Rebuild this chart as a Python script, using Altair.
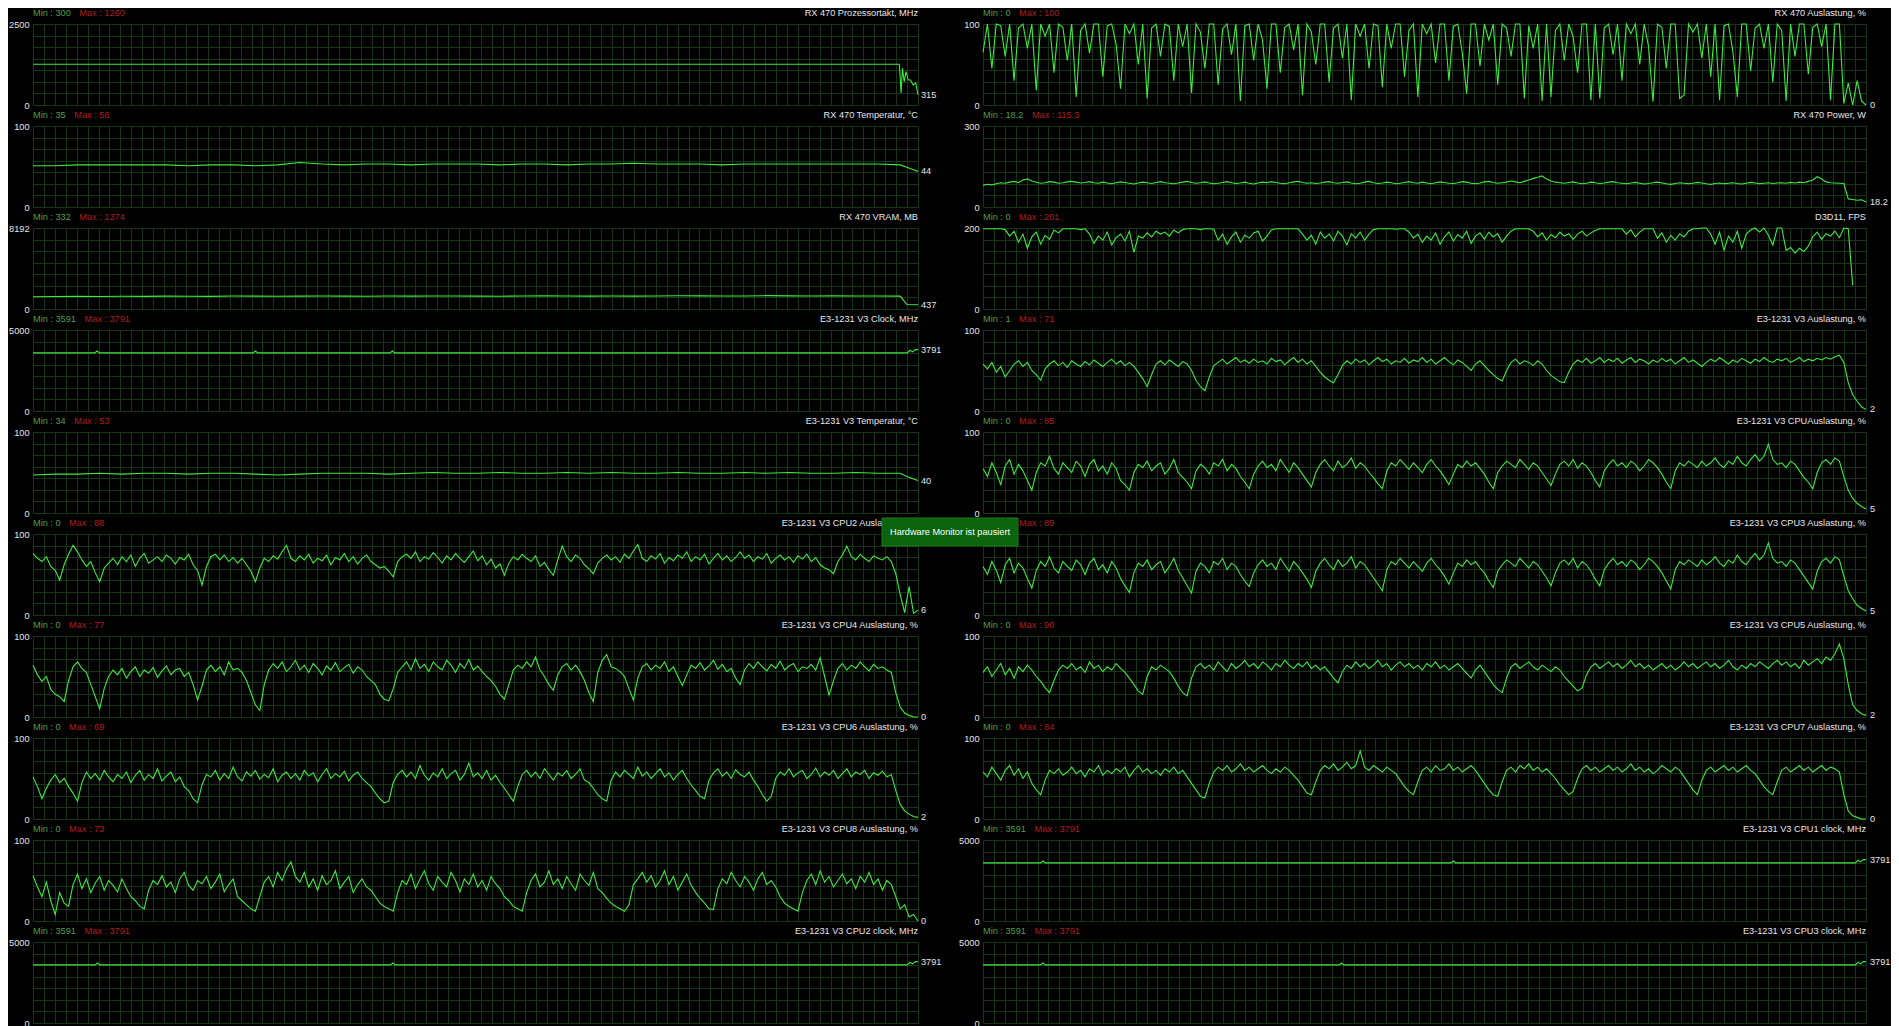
import altair as alt
import pandas as pd
import numpy as np

# ------------------------------------------------------------------ data
N_LAST = 199  # index of the newest sample in the monitor window

# ---- left column ----
L0_t = [0, 194.8, 195.2, 195.5, 195.9, 196.3, 196.8, 197.3, 197.9, 198.5, 199]
L0_v = [1260, 1260, 370, 1130, 720, 1030, 770, 770, 620, 680, 315]

L1_t = [0, 5, 10, 15, 20, 25, 30, 35, 40, 45, 50, 55, 60, 65, 70, 75, 80, 85, 90, 95,
        100, 105, 110, 115, 120, 125, 130, 135, 140, 145, 150, 155, 160, 165, 170, 175, 180, 185, 190, 195,
        196.5, 198, 199]
L1_v = [51, 51, 52, 52, 52, 52, 52, 51, 52, 52, 51, 52, 55, 53, 52, 53, 53, 52, 53, 53,
        53, 52, 53, 53, 52, 53, 53, 54, 53, 53, 53, 52, 53, 53, 53, 53, 53, 53, 53, 52,
        49, 46, 44]

L2_t = [0, 5, 10, 15, 20, 25, 30, 35, 40, 45, 50, 55, 60, 65, 70, 75, 80, 85, 90, 95,
        100, 105, 110, 115, 120, 125, 130, 135, 140, 145, 150, 155, 160, 165, 170, 175, 180, 185, 190, 195,
        196.5, 199]
L2_v = [1240, 1260, 1280, 1270, 1290, 1280, 1300, 1290, 1280, 1310, 1300, 1290, 1300, 1320, 1300, 1290, 1310, 1300, 1320, 1310,
        1300, 1290, 1310, 1330, 1320, 1300, 1310, 1300, 1320, 1340, 1330, 1310, 1320, 1350, 1330, 1320, 1330, 1320, 1310, 1300,
        450, 437]

L3_t = [0, 13.9, 14.4, 14.9, 49.5, 50, 50.5, 80.3, 80.8, 81.3, 196.6, 197.2, 197.8, 198.4, 199]
L3_v = [3591, 3591, 3700, 3591, 3591, 3700, 3591, 3591, 3700, 3591, 3591, 3750, 3650, 3791, 3791]

L4_t = [0, 5, 10, 15, 20, 25, 30, 35, 40, 45, 50, 55, 60, 65, 70, 75, 80, 85, 90, 95,
        100, 105, 110, 115, 120, 125, 130, 135, 140, 145, 150, 155, 160, 165, 170, 175, 180, 185, 190, 195,
        196.5, 198, 199]
L4_v = [47, 48, 48, 49, 48, 49, 49, 48, 49, 49, 48, 47, 48, 49, 49, 49, 48, 49, 50, 49,
        49, 50, 49, 49, 50, 49, 50, 49, 49, 50, 49, 49, 50, 49, 50, 49, 49, 50, 49, 49,
        45, 42, 40]

L5_v = [
    76, 70, 66, 72, 60, 55, 43, 62, 75, 86, 78, 68, 60, 66, 52, 41, 58, 64, 70, 62,
    72, 66, 74, 60, 70, 76, 64, 68, 72, 66, 74, 70, 63, 71, 68, 75, 62, 55, 37, 60,
    72, 75, 68, 74, 66, 71, 64, 70, 62, 54, 41, 58, 70, 66, 73, 69, 78, 86, 70, 66,
    73, 68, 75, 64, 70, 67, 74, 62, 71, 68, 76, 66, 72, 63, 70, 74, 66, 62, 58, 60,
    54, 47, 66, 72, 75, 70, 78, 66, 72, 69, 77, 71, 64, 73, 68, 76, 70, 65, 72, 79,
    67, 73, 62, 69, 58, 63, 49, 64, 72, 68, 75, 70, 66, 73, 60, 65, 56, 49, 68, 85,
    72, 66, 74, 70, 62, 57, 51, 64, 70, 74, 68, 72, 65, 75, 70, 79, 87, 70, 66, 73,
    69, 76, 64, 71, 67, 74, 70, 78, 66, 72, 68, 75, 63, 70, 76, 68, 73, 66, 71, 78,
    70, 74, 66, 72, 69, 76, 64, 70, 74, 68, 72, 65, 73, 69, 75, 66, 71, 62, 58, 56,
    51, 66, 74, 85, 72, 68, 75, 70, 66, 73, 70, 68, 72, 66, 51, 25, 3, 35, 2, 6]

L6_v = [
    64, 52, 44, 50, 34, 28, 25, 19, 45, 62, 68, 60, 55, 40, 25, 10, 35, 50, 58, 52,
    60, 48, 56, 62, 50, 58, 54, 61, 49, 57, 63, 52, 58, 60, 50, 55, 40, 21, 38, 58,
    64, 56, 62, 52, 68, 58, 60, 55, 45, 30, 15, 8, 40, 58, 66, 60, 68, 56, 62, 70,
    58, 64, 55, 66, 60, 52, 63, 58, 67, 56, 61, 65, 54, 62, 58, 50, 45, 40, 28, 22,
    20, 35, 55, 62, 68, 58, 72, 60, 65, 56, 68, 62, 58, 70, 64, 55, 66, 60, 71, 58,
    63, 56, 50, 45, 38, 28, 22, 40, 58, 64, 60, 68, 62, 74, 58, 50, 40, 33, 52, 62,
    66, 58, 64, 56, 45, 30, 19, 55, 70, 77, 62, 60, 56, 50, 35, 21, 48, 62, 66, 58,
    64, 60, 68, 56, 62, 50, 39, 52, 64, 60, 67, 58, 63, 70, 59, 65, 56, 60, 48, 40,
    58, 66, 60, 68, 62, 57, 65, 60, 69, 58, 63, 66, 56, 62, 60, 65, 58, 73, 50, 27,
    45, 60, 66, 58, 64, 60, 68, 62, 57, 65, 60, 62, 58, 55, 30, 12, 5, 2, 0, 0]

L7_v = [
    52, 40, 25, 38, 48, 55, 45, 50, 40, 32, 22, 45, 58, 50, 56, 48, 60, 52, 46, 55,
    50, 58, 45, 54, 60, 48, 55, 50, 62, 47, 53, 58, 46, 52, 40, 35, 25, 20, 42, 55,
    52, 60, 48, 56, 50, 64, 52, 47, 58, 53, 60, 49, 55, 51, 62, 46, 54, 58, 50, 56,
    48, 60, 53, 57, 46, 55, 62, 50, 56, 52, 59, 47, 54, 58, 50, 45, 40, 32, 25, 20,
    22, 45, 55, 60, 52, 58, 50, 66, 54, 48, 57, 52, 62, 50, 56, 60, 48, 55, 69, 52,
    57, 50, 60, 48, 54, 45, 38, 30, 22, 40, 55, 60, 52, 58, 50, 62, 55, 48, 57, 53,
    60, 50, 55, 62, 48, 45, 38, 30, 25, 22, 48, 58, 52, 60, 55, 50, 64, 53, 58, 50,
    56, 62, 52, 57, 48, 55, 60, 50, 42, 35, 28, 25, 48, 57, 62, 53, 58, 50, 61, 55,
    52, 58, 48, 40, 30, 22, 28, 50, 58, 54, 62, 52, 57, 60, 50, 55, 63, 52, 58, 54,
    60, 50, 56, 62, 52, 58, 55, 60, 50, 57, 54, 59, 52, 55, 35, 18, 10, 6, 3, 2]

L8_v = [
    56, 42, 30, 48, 25, 8, 35, 22, 18, 45, 58, 40, 52, 35, 47, 55, 38, 50, 44, 36,
    52, 40, 30, 25, 18, 15, 38, 50, 45, 56, 42, 48, 35, 52, 60, 44, 38, 50, 46, 55,
    40, 48, 58, 36, 45, 52, 30, 25, 20, 15, 12, 30, 48, 55, 42, 60, 50, 64, 73, 55,
    48, 60, 42, 52, 38, 56, 45, 50, 62, 40, 48, 55, 35, 45, 52, 42, 38, 30, 22, 18,
    15, 12, 35, 50, 45, 58, 40, 52, 62, 46, 38, 55, 48, 42, 60, 50, 36, 52, 45, 58,
    42, 50, 38, 55, 46, 40, 30, 25, 18, 15, 12, 35, 50, 58, 42, 48, 62, 45, 52, 40,
    55, 46, 38, 58, 50, 44, 60, 40, 35, 28, 22, 18, 15, 12, 20, 45, 52, 60, 48, 56,
    42, 50, 62, 45, 55, 38, 48, 58, 44, 35, 28, 22, 15, 14, 40, 52, 46, 60, 50, 42,
    55, 48, 38, 52, 60, 45, 50, 42, 30, 22, 18, 15, 12, 35, 50, 58, 45, 62, 48, 55,
    42, 50, 58, 46, 52, 40, 55, 48, 60, 45, 52, 38, 50, 45, 30, 15, 20, 5, 8, 0]

L9_t = [0, 14.0, 14.5, 15.0, 80.4, 80.9, 81.4, 196.6, 197.2, 197.8, 198.4, 199]
L9_v = [3591, 3591, 3700, 3591, 3591, 3700, 3591, 3591, 3750, 3650, 3791, 3791]

# ---- right column ----
R0_v = [
    65, 100, 45, 100, 98, 60, 100, 30, 95, 100, 70, 100, 18, 100, 85, 100, 40, 100, 96, 55,
    100, 10, 92, 100, 64, 100, 100, 35, 98, 100, 75, 20, 100, 88, 100, 50, 100, 8, 95, 100,
    60, 100, 97, 30, 100, 72, 100, 15, 100, 90, 45, 100, 100, 25, 94, 100, 62, 100, 5, 98,
    100, 55, 100, 80, 20, 100, 100, 40, 96, 100, 68, 100, 12, 100, 90, 50, 100, 100, 28, 95,
    100, 58, 100, 6, 100, 85, 100, 45, 100, 98, 22, 100, 70, 100, 100, 35, 92, 100, 10, 100,
    88, 100, 52, 100, 100, 30, 97, 100, 65, 14, 100, 100, 48, 100, 80, 100, 25, 100, 95, 60,
    100, 100, 8, 98, 70, 100, 5, 100, 10, 92, 100, 55, 100, 84, 40, 100, 100, 6, 100, 8,
    95, 100, 62, 100, 30, 100, 88, 100, 50, 100, 72, 4, 100, 96, 45, 100, 100, 8, 12, 100,
    90, 100, 58, 100, 35, 100, 6, 98, 100, 66, 10, 100, 100, 42, 95, 100, 70, 100, 28, 100,
    92, 5, 100, 60, 100, 100, 38, 96, 100, 72, 100, 6, 100, 100, 2, 27, 0, 30, 5, 0]

R1_v = [
    80, 84, 82, 86, 90, 88, 92, 95, 90, 100, 104, 96, 92, 88, 90, 94, 92, 88, 90, 93,
    95, 92, 89, 91, 94, 90, 88, 92, 89, 86, 90, 93, 91, 88, 85, 89, 92, 90, 87, 91,
    94, 90, 88, 86, 89, 92, 95, 91, 88, 90, 93, 89, 86, 88, 91, 94, 90, 87, 89, 92,
    88, 85, 89, 92, 90, 94, 91, 88, 86, 90, 93, 95, 91, 88, 90, 87, 89, 92, 94, 90,
    88, 91, 93, 89, 86, 88, 92, 95, 90, 87, 89, 92, 90, 86, 88, 91, 94, 90, 88, 92,
    89, 86, 90, 93, 91, 88, 87, 90, 94, 92, 88, 86, 89, 93, 95, 91, 88, 90, 92, 96,
    93, 90, 95, 100, 106, 110, 115, 104, 96, 92, 90, 88, 91, 93, 89, 86, 88, 92, 90, 87,
    89, 92, 94, 90, 88, 86, 89, 91, 88, 85, 87, 90, 92, 89, 86, 84, 87, 90, 88, 86,
    88, 91, 89, 86, 84, 87, 89, 86, 88, 90, 87, 85, 88, 91, 89, 86, 88, 90, 87, 89,
    90, 88, 91, 89, 92, 90, 95, 100, 112, 104, 93, 90, 89, 88, 87, 30, 28, 25, 27, 18.2]

R2_v = [
    198, 198, 198, 198, 198, 196, 180, 192, 165, 185, 150, 178, 190, 160, 182, 172, 195, 188, 198, 198,
    198, 198, 196, 198, 185, 162, 180, 170, 190, 158, 176, 185, 168, 192, 140, 180, 175, 188, 178, 192,
    185, 190, 180, 195, 188, 196, 198, 198, 198, 196, 198, 198, 197, 170, 185, 160, 178, 190, 165, 182,
    175, 188, 192, 168, 180, 195, 198, 198, 198, 198, 198, 198, 185, 170, 182, 160, 190, 175, 185, 168,
    192, 180, 158, 186, 175, 190, 170, 185, 196, 198, 198, 198, 198, 197, 198, 198, 190, 175, 185, 165,
    180, 170, 188, 160, 178, 190, 168, 184, 175, 192, 162, 180, 188, 172, 190, 178, 186, 165, 180, 192,
    198, 198, 198, 198, 192, 178, 188, 170, 184, 176, 190, 180, 186, 172, 185, 192, 180, 188, 194, 198,
    198, 198, 198, 198, 198, 185, 196, 178, 190, 198, 198, 198, 175, 188, 165, 182, 170, 186, 178, 192,
    198, 198, 200, 200, 185, 160, 190, 145, 180, 165, 192, 150, 185, 195, 200, 190, 200, 182, 158, 200,
    200, 145, 152, 138, 150, 142, 155, 178, 190, 172, 186, 180, 192, 176, 200, 198, 59]

R3_v = [
    58, 52, 60, 48, 55, 42, 50, 58, 62, 55, 60, 50, 45, 38, 52, 58, 62, 56, 60, 54,
    62, 58, 55, 61, 57, 63, 59, 55, 60, 64, 58, 62, 56, 60, 55, 48, 40, 30, 45, 58,
    62, 57, 63, 59, 55, 61, 58, 50, 38, 30, 25, 42, 56, 60, 64, 58, 62, 66, 60, 63,
    59, 64, 60, 62, 58, 65, 61, 63, 57, 62, 66, 60, 64, 58, 62, 55, 48, 42, 38, 35,
    45, 56, 62, 58, 64, 60, 63, 57, 62, 66, 61, 64, 58, 62, 60, 65, 59, 63, 61, 66,
    60, 64, 58, 62, 66, 61, 57, 63, 60, 55, 50, 58, 62, 56, 50, 45, 40, 37, 50, 60,
    64, 58, 62, 60, 56, 62, 58, 50, 44, 40, 36, 35, 48, 58, 63, 60, 65, 59, 62, 66,
    60, 64, 61, 65, 59, 63, 66, 60, 64, 62, 58, 63, 60, 65, 61, 64, 58, 62, 66, 60,
    63, 59, 55, 60, 64, 61, 66, 62, 58, 63, 60, 65, 62, 59, 64, 61, 66, 62, 60, 64,
    62, 65, 60, 63, 66, 61, 64, 62, 65, 63, 66, 64, 67, 69, 60, 35, 20, 12, 5, 2]

R4_v = [
    55, 45, 62, 50, 35, 58, 66, 48, 60, 52, 40, 28, 50, 62, 58, 70, 55, 48, 62, 56,
    50, 64, 58, 45, 60, 66, 52, 58, 48, 62, 55, 40, 35, 28, 50, 60, 56, 64, 52, 58,
    62, 48, 55, 66, 50, 44, 38, 30, 52, 60, 56, 48, 62, 58, 66, 52, 60, 55, 45, 38,
    30, 48, 58, 64, 56, 60, 52, 66, 58, 50, 62, 56, 48, 40, 32, 50, 60, 66, 58, 52,
    64, 56, 60, 68, 55, 62, 58, 50, 44, 36, 30, 52, 62, 58, 66, 60, 54, 62, 56, 50,
    60, 66, 58, 52, 44, 35, 48, 60, 56, 64, 58, 62, 55, 48, 38, 30, 50, 58, 64, 60,
    56, 66, 60, 54, 62, 58, 50, 42, 34, 48, 60, 64, 58, 66, 55, 62, 58, 50, 40, 32,
    52, 60, 66, 58, 62, 56, 64, 60, 52, 58, 66, 62, 56, 48, 38, 30, 52, 62, 58, 64,
    60, 56, 64, 58, 62, 68, 60, 56, 64, 60, 70, 62, 58, 66, 72, 64, 70, 85, 66, 60,
    62, 56, 64, 60, 52, 44, 38, 30, 50, 62, 66, 60, 68, 64, 45, 28, 18, 12, 8, 5]

R5_v = [
    60, 50, 66, 55, 40, 62, 70, 52, 64, 58, 45, 33, 55, 66, 60, 72, 58, 52, 66, 60,
    55, 68, 62, 50, 64, 70, 56, 62, 52, 66, 58, 45, 36, 28, 52, 64, 60, 68, 56, 62,
    66, 52, 60, 70, 55, 46, 36, 27, 54, 64, 60, 52, 66, 62, 70, 56, 64, 60, 50, 42,
    35, 52, 62, 68, 60, 64, 56, 70, 62, 54, 66, 60, 52, 44, 34, 54, 64, 70, 62, 56,
    68, 60, 64, 72, 58, 66, 62, 54, 46, 38, 30, 56, 66, 62, 70, 64, 58, 66, 60, 54,
    64, 70, 62, 56, 48, 38, 52, 64, 60, 68, 62, 66, 58, 52, 42, 34, 54, 62, 68, 64,
    60, 70, 64, 58, 66, 62, 54, 46, 36, 52, 64, 68, 62, 70, 58, 66, 62, 54, 44, 36,
    56, 64, 70, 62, 66, 60, 68, 64, 56, 62, 70, 66, 60, 52, 42, 32, 56, 66, 62, 68,
    64, 60, 68, 62, 66, 72, 64, 60, 68, 64, 74, 66, 62, 70, 76, 68, 74, 89, 70, 64,
    66, 60, 68, 64, 56, 48, 40, 32, 54, 66, 70, 64, 72, 68, 48, 30, 20, 12, 8, 5]

R6_v = [
    55, 62, 50, 58, 66, 52, 60, 48, 62, 56, 64, 58, 50, 44, 36, 30, 45, 58, 64, 60,
    66, 58, 62, 55, 68, 60, 64, 56, 62, 58, 66, 60, 55, 48, 40, 32, 28, 50, 62, 58,
    64, 60, 56, 48, 38, 30, 26, 48, 62, 66, 60, 64, 58, 68, 62, 56, 66, 60, 64, 70,
    62, 66, 60, 68, 64, 58, 66, 62, 70, 64, 60, 66, 62, 68, 60, 64, 58, 62, 55, 48,
    42, 56, 64, 60, 68, 62, 66, 60, 64, 70, 62, 66, 58, 64, 68, 62, 66, 60, 64, 58,
    66, 62, 68, 60, 64, 58, 62, 66, 60, 54, 48, 58, 64, 56, 48, 40, 34, 30, 48, 62,
    66, 60, 64, 68, 62, 58, 64, 60, 56, 62, 58, 50, 44, 38, 32, 36, 52, 62, 66, 60,
    64, 68, 62, 66, 60, 64, 70, 62, 66, 60, 64, 58, 62, 66, 60, 64, 58, 62, 68, 62,
    66, 60, 64, 68, 62, 66, 60, 64, 70, 62, 58, 64, 60, 66, 62, 68, 64, 60, 66, 70,
    64, 68, 62, 66, 60, 70, 64, 68, 72, 66, 74, 70, 78, 90, 72, 40, 15, 8, 4, 2]

R7_v = [
    58, 52, 64, 56, 48, 60, 66, 54, 62, 50, 58, 44, 36, 30, 48, 60, 56, 62, 54, 58,
    64, 56, 60, 52, 62, 58, 66, 54, 60, 56, 62, 58, 64, 52, 60, 66, 58, 62, 56, 60,
    54, 62, 58, 64, 56, 60, 52, 44, 36, 28, 26, 44, 58, 64, 60, 66, 58, 62, 68, 60,
    64, 58, 62, 66, 60, 56, 62, 58, 64, 60, 54, 48, 40, 32, 30, 46, 60, 66, 62, 68,
    60, 64, 70, 62, 66, 84, 64, 60, 66, 62, 58, 64, 60, 56, 48, 40, 34, 30, 46, 60,
    64, 58, 66, 60, 62, 68, 60, 64, 58, 62, 66, 60, 52, 44, 36, 30, 28, 46, 60, 64,
    58, 66, 62, 68, 60, 64, 58, 62, 56, 50, 42, 36, 30, 34, 50, 62, 66, 60, 64, 58,
    62, 66, 60, 64, 58, 62, 68, 60, 64, 58, 62, 56, 60, 66, 62, 58, 64, 60, 52, 44,
    36, 30, 48, 60, 64, 58, 62, 66, 60, 64, 58, 62, 66, 60, 56, 48, 40, 34, 30, 46,
    60, 64, 58, 62, 66, 60, 64, 58, 62, 66, 60, 64, 62, 58, 30, 10, 4, 2, 0, 0]

R8_t = [0, 13.0, 13.5, 14.0, 105.5, 106.0, 106.5, 196.6, 197.2, 197.8, 198.4, 199]
R8_v = [3591, 3591, 3700, 3591, 3591, 3700, 3591, 3591, 3750, 3650, 3791, 3791]

R9_t = [0, 13.0, 13.5, 14.0, 80.3, 80.8, 81.3, 196.6, 197.2, 197.8, 198.4, 199]
R9_v = [3591, 3591, 3700, 3591, 3591, 3700, 3591, 3591, 3750, 3650, 3791, 3791]

# panel texts: (title, min, max, axis max, current value label)
LEFT_TITLES = ["RX 470 Prozessortakt, MHz", "RX 470 Temperatur, °C", "RX 470 VRAM, MB",
               "E3-1231 V3 Clock, MHz", "E3-1231 V3 Temperatur, °C", "E3-1231 V3 CPU2 Auslastung, %",
               "E3-1231 V3 CPU4 Auslastung, %", "E3-1231 V3 CPU6 Auslastung, %",
               "E3-1231 V3 CPU8 Auslastung, %", "E3-1231 V3 CPU2 clock, MHz"]
LEFT_MIN = ["300", "35", "332", "3591", "34", "0", "0", "0", "0", "3591"]
LEFT_MAX = ["1260", "56", "1374", "3791", "53", "88", "77", "69", "73", "3791"]
LEFT_YMAX = [2500, 100, 8192, 5000, 100, 100, 100, 100, 100, 5000]
LEFT_CUR = ["315", "44", "437", "3791", "40", "6", "0", "2", "0", "3791"]

RIGHT_TITLES = ["RX 470 Auslastung, %", "RX 470 Power, W", "D3D11, FPS",
                "E3-1231 V3 Auslastung, %", "E3-1231 V3 CPUAuslastung, %",
                "E3-1231 V3 CPU3 Auslastung, %", "E3-1231 V3 CPU5 Auslastung, %",
                "E3-1231 V3 CPU7 Auslastung, %", "E3-1231 V3 CPU1 clock, MHz",
                "E3-1231 V3 CPU3 clock, MHz"]
RIGHT_MIN = ["0", "18.2", "0", "1", "0", "0", "0", "0", "3591", "3591"]
RIGHT_MAX = ["100", "115.3", "201", "71", "85", "89", "90", "84", "3791", "3791"]
RIGHT_YMAX = [100, 300, 200, 100, 100, 100, 100, 100, 5000, 5000]
RIGHT_CUR = ["0", "18.2", "", "2", "5", "5", "2", "0", "3791", "3791"]

PAUSE_MSG = "Hardware Monitor ist pausiert"

# ------------------------------------------------------------------ style
BG = "#000000"
GRID = "#173517"
LINE = "#3fe93f"
MINC = "#4f9f4f"
MAXC = "#b01c1c"
TXT = "#e6e6e6"
BOX = "#0b640b"
FONT = "Liberation Sans"
FS = 9.2

LEFT_W, RIGHT_W, PANEL_H = 885, 883, 81
ROW_GAP, COL_GAP = 21, 65

ARIAL = {"M": 833, "i": 222, "n": 556, " ": 278, ":": 278, ".": 278}


def text_width(s):
    return sum(ARIAL.get(c, 556) for c in s) * FS / 1000.0


def series(vals, t=None):
    if t is None:
        t = list(range(len(vals)))
    return pd.DataFrame({"t": t, "v": vals})


def make_panel(df, title, mn, mx, ymax, cur, width, cur_dx, extra=None):
    xgrid = list(np.linspace(0, N_LAST, 82))
    ygrid = list(np.linspace(0, ymax, 8))
    xenc = alt.X("t:Q", scale=alt.Scale(domain=[0, N_LAST], nice=False, zero=False),
                 axis=alt.Axis(values=xgrid, grid=True, gridColor=GRID, gridWidth=1,
                               labels=False, ticks=False, domain=False, title=None))
    yenc = alt.Y("v:Q", scale=alt.Scale(domain=[0, ymax], nice=False, zero=True),
                 axis=alt.Axis(values=ygrid, grid=True, gridColor=GRID, gridWidth=1,
                               ticks=False, tickSize=0, domain=False, title=None,
                               format="d", labelExpr=f"(datum.value == 0 || datum.value >= {ymax}) ? datum.label : ''",
                               labelColor=TXT, labelFont=FONT, labelFontSize=FS,
                               labelPadding=4, labelFlush=False, labelOverlap=False))
    line = alt.Chart(df).mark_line(color=LINE, strokeWidth=1.1).encode(x=xenc, y=yenc)

    lab = pd.DataFrame({"mn": ["Min : " + mn], "mx": ["Max : " + mx], "title": [title]})
    tmin = alt.Chart(lab).mark_text(align="left", baseline="middle", color=MINC,
                                    font=FONT, fontSize=FS).encode(
        x=alt.value(0), y=alt.value(-11), text="mn:N")
    tmax = alt.Chart(lab).mark_text(align="left", baseline="middle", color=MAXC,
                                    font=FONT, fontSize=FS).encode(
        x=alt.value(text_width("Min : " + mn) + 8.5), y=alt.value(-11), text="mx:N")
    ttl = alt.Chart(lab).mark_text(align="right", baseline="middle", color=TXT,
                                   font=FONT, fontSize=FS).encode(
        x=alt.value(width), y=alt.value(-11), text="title:N")
    layers = [line, tmin, tmax, ttl]
    if cur:
        cdf = pd.DataFrame({"v": [df["v"].iloc[-1]], "s": [cur]})
        layers.append(alt.Chart(cdf).mark_text(align="left", baseline="middle", color=TXT,
                                               font=FONT, fontSize=FS).encode(
            x=alt.value(width + cur_dx), y=yenc, text="s:N"))
    if extra:
        layers += extra
    return alt.layer(*layers).properties(width=width, height=PANEL_H)


left_data = [series(L0_v, L0_t), series(L1_v, L1_t), series(L2_v, L2_t), series(L3_v, L3_t),
             series(L4_v, L4_t), series(L5_v), series(L6_v), series(L7_v), series(L8_v),
             series(L9_v, L9_t)]
right_data = [series(R0_v), series(R1_v), series(R2_v), series(R3_v), series(R4_v),
              series(R5_v), series(R6_v), series(R7_v), series(R8_v, R8_t), series(R9_v, R9_t)]

# paused-monitor notice drawn on top of the right CPU3 panel
msg = pd.DataFrame({"msg": [PAUSE_MSG]})
box = alt.Chart(msg).mark_rect(fill=BOX, stroke="#1d7a1d", strokeWidth=1).encode(
    x=alt.value(-101), x2=alt.value(35), y=alt.value(-16), y2=alt.value(12))
box_txt = alt.Chart(msg).mark_text(align="center", baseline="middle", color="#ffffff",
                                   font=FONT, fontSize=FS).encode(
    x=alt.value(-33), y=alt.value(-2), text="msg:N")

panels = []
for i in range(10):
    panels.append(make_panel(left_data[i], LEFT_TITLES[i], LEFT_MIN[i], LEFT_MAX[i],
                             LEFT_YMAX[i], LEFT_CUR[i], LEFT_W, 3))
    panels.append(make_panel(right_data[i], RIGHT_TITLES[i], RIGHT_MIN[i], RIGHT_MAX[i],
                             RIGHT_YMAX[i], RIGHT_CUR[i], RIGHT_W, 4,
                             extra=[box, box_txt] if i == 5 else None))

base = alt.concat(*panels, columns=2, spacing={"row": ROW_GAP, "column": COL_GAP},
                  bounds="flush")

chart = base.properties(background=BG,
                        padding={"left": 0, "top": 1, "right": 0, "bottom": 0})
try:
    chart.to_dict()
except Exception:
    chart = base.properties(background=BG, padding=0)

chart = chart.configure_view(stroke=None)

chart.save("out.html", embed_options={"renderer": "svg", "actions": False})
